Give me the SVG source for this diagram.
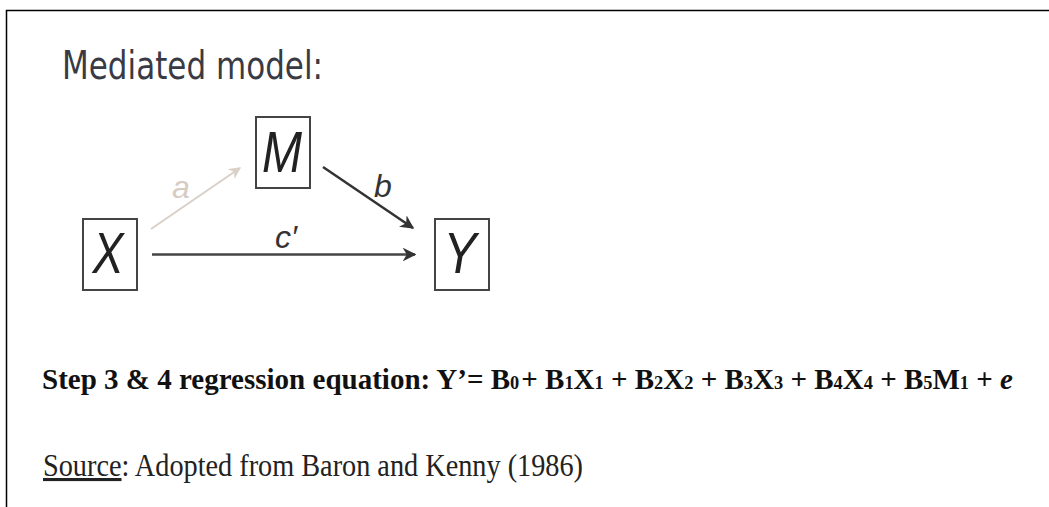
<svg xmlns="http://www.w3.org/2000/svg" width="1049" height="507" viewBox="0 0 1049 507">
<style>
.box{fill:#fff;stroke:#444;stroke-width:2}
.var{font-family:"Liberation Sans",Arial,sans-serif;font-style:italic;font-size:57px;fill:#222;text-anchor:middle}
.lbl{font-family:"Liberation Sans",Arial,sans-serif;font-style:italic;font-size:32px;fill:#333}
.eq{font-family:"Liberation Serif","Times New Roman",serif;font-weight:bold;font-size:30px;fill:#111}
.sub{font-size:19px}
.src{font-family:"Liberation Serif","Times New Roman",serif;font-size:31px;fill:#222}
</style>
<defs>
<marker id="ah" viewBox="0 0 10 10" refX="9" refY="5" markerWidth="5.5" markerHeight="5.5" orient="auto" markerUnits="strokeWidth">
<path d="M0,0 L10,5 L0,10 L3,5 Z" fill="#333"/>
</marker>
<marker id="ahl" viewBox="0 0 10 10" refX="9" refY="5" markerWidth="6" markerHeight="6" orient="auto" markerUnits="strokeWidth">
<path d="M0,0 L10,5 L0,10 L3,5 Z" fill="#d9d0c8"/>
</marker>
</defs>
<rect width="1049" height="507" fill="#fff"/>
<path d="M6.5,507 V10.5 H1049" fill="none" stroke="#000" stroke-width="1.5"/>
<text x="62" y="79" font-family="'DejaVu Sans',sans-serif" font-size="39" fill="#3a3a44" textLength="261" lengthAdjust="spacingAndGlyphs">Mediated model:</text>
<g id="connectors">
<line x1="151" y1="229" x2="240" y2="168" stroke="#d9d0c8" stroke-width="2" marker-end="url(#ahl)"/>
<line x1="323" y1="167" x2="413" y2="228" stroke="#333" stroke-width="2.5" marker-end="url(#ah)"/>
<line x1="152" y1="254.5" x2="415" y2="254.5" stroke="#444" stroke-width="2.5" marker-end="url(#ah)"/>
<text class="lbl" x="172" y="198" style="fill:#d6ccc4">a</text>
<text class="lbl" x="374" y="197">b</text>
<text class="lbl" x="275" y="248">c′</text>
</g>
<g id="node-M">
<rect class="box" x="256" y="117" width="54" height="71"/>
<text class="var" x="282" y="172" textLength="40" lengthAdjust="spacingAndGlyphs">M</text>
</g>
<g id="node-X">
<rect class="box" x="83" y="219" width="54" height="71"/>
<text class="var" x="108" y="273" textLength="31" lengthAdjust="spacingAndGlyphs">X</text>
</g>
<g id="node-Y">
<rect class="box" x="435" y="219" width="54" height="71"/>
<text class="var" x="460" y="273" textLength="33" lengthAdjust="spacingAndGlyphs">Y</text>
</g>
<text class="eq" x="42" y="389" textLength="971" lengthAdjust="spacingAndGlyphs">Step 3 &amp; 4 regression equation: Y’= B<tspan class="sub">0</tspan><tspan dx="2">+</tspan> B<tspan class="sub">1</tspan>X<tspan class="sub">1</tspan> + B<tspan class="sub">2</tspan>X<tspan class="sub">2</tspan> + B<tspan class="sub">3</tspan>X<tspan class="sub">3</tspan> + B<tspan class="sub">4</tspan>X<tspan class="sub">4</tspan> + B<tspan class="sub">5</tspan>M<tspan class="sub">1</tspan> + <tspan font-style="italic">e</tspan></text>
<text class="src" x="43" y="476" textLength="540" lengthAdjust="spacingAndGlyphs"><tspan text-decoration="underline">Source</tspan>: Adopted from Baron and Kenny (1986)</text>
</svg>
